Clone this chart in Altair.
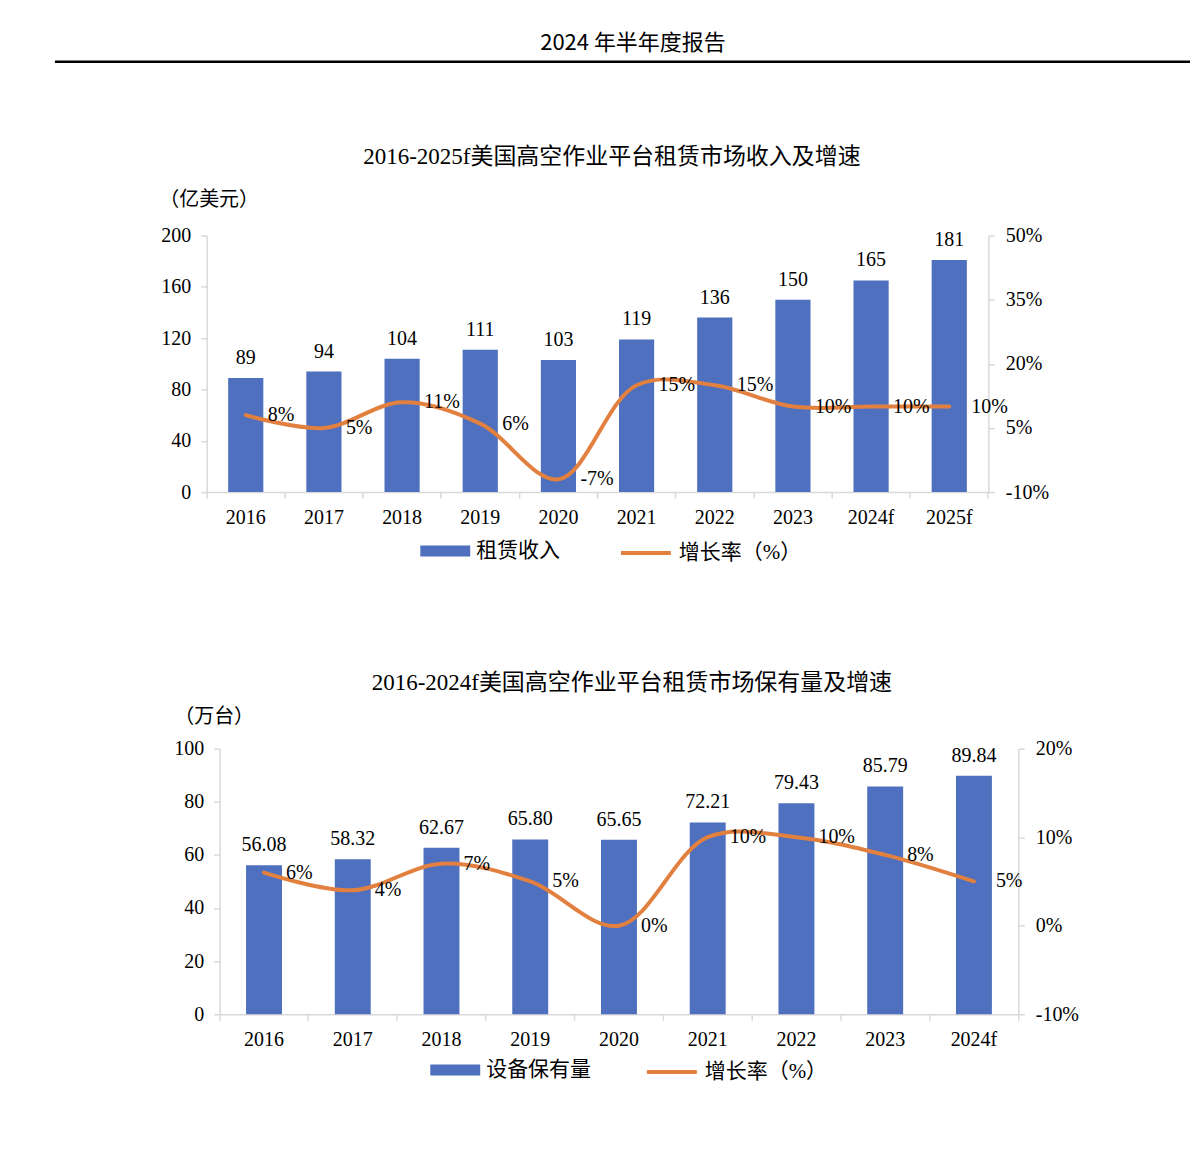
import altair as alt
import pandas as pd

# ---------------- data ----------------
years1 = ["2016", "2017", "2018", "2019", "2020", "2021", "2022", "2023", "2024f", "2025f"]
revenue = [89, 94, 104, 111, 103, 119, 136, 150, 165, 181]
growth1 = [8, 5, 11, 6, -7, 15, 15, 10, 10, 10]
left_ticks1 = [0, 40, 80, 120, 160, 200]
right_ticks1 = [-10, 5, 20, 35, 50]

years2 = ["2016", "2017", "2018", "2019", "2020", "2021", "2022", "2023", "2024f"]
fleet = [56.08, 58.32, 62.67, 65.80, 65.65, 72.21, 79.43, 85.79, 89.84]
growth2 = [6, 4, 7, 5, 0, 10, 10, 8, 5]
left_ticks2 = [0, 20, 40, 60, 80, 100]
right_ticks2 = [-10, 0, 10, 20]

header_text = "2024 年半年度报告"
title1 = "2016-2025f美国高空作业平台租赁市场收入及增速"
title2 = "2016-2024f美国高空作业平台租赁市场保有量及增速"
unit1 = "（亿美元）"
unit2 = "（万台）"
bar_name1 = "租赁收入"
bar_name2 = "设备保有量"
line_name = "增长率（%）"

# ---------------- style ----------------
BLUE = "#4E70BE"
ORANGE = "#E2803F"
GRAY = "#D9D9D9"
NUM_FONT = "Liberation Serif, Noto Sans CJK SC"
CJK_FONT = "Liberation Serif, Noto Sans CJK SC"


def panel(years, vals, growth, val_fmt, left_dom, left_ticks, right_dom, right_ticks,
          bar_name, unit, title, W, H, shift, bar_frac,
          title_x, title_y, unit_x, unit_y, leg1_x, leg2_x, leg_y):
    df = pd.DataFrame({"year": years, "val": vals, "g": growth})
    df["glabel"] = [f"{v}%" for v in growth]
    df["sbar"] = bar_name
    df["sline"] = line_name
    base = alt.Chart(df)

    x = alt.X("year:N", sort=years, title=None,
              scale=alt.Scale(paddingInner=0, paddingOuter=0, range=[shift, shift + W]),
              axis=alt.Axis(bandPosition=1, tickExtra=True, domainColor=GRAY, domainWidth=1.5,
                            tickColor=GRAY, tickWidth=1.5, tickSize=6, labelAngle=0,
                            labelFont=NUM_FONT, labelFontSize=20, labelColor="black",
                            labelPadding=9, grid=False))
    yscale = alt.Scale(domain=left_dom, nice=False)
    gscale = alt.Scale(domain=right_dom, nice=False, zero=False)

    bars = base.mark_bar(width=alt.RelativeBandSize(bar_frac)).encode(
        x=x,
        y=alt.Y("val:Q", scale=yscale,
                axis=alt.Axis(orient="left", values=left_ticks, title=unit, titleAngle=0,
                              titleX=unit_x, titleY=unit_y, titleAlign="left",
                              titleBaseline="middle", titleFont=CJK_FONT, titleFontSize=20,
                              titleFontWeight="normal", titleColor="black",
                              domainColor=GRAY, domainWidth=1.5, tickColor=GRAY, tickWidth=1.5,
                              tickSize=6, labelFont=NUM_FONT, labelFontSize=20,
                              labelColor="black", labelPadding=10, grid=False,
                              offset=-shift, minExtent=199, maxExtent=199)),
        color=alt.Color("sbar:N", scale=alt.Scale(domain=[bar_name], range=[BLUE]),
                        legend=alt.Legend(title=None, orient="none", legendX=leg1_x, legendY=leg_y,
                                          symbolType="M-1,-0.22H1V0.22H-1Z", symbolSize=2500,
                                          symbolStrokeWidth=0, symbolOpacity=1,
                                          labelFont=CJK_FONT, labelFontSize=21, labelColor="black",
                                          labelOffset=6, padding=0)),
    )
    bar_labels = base.mark_text(baseline="alphabetic", dy=-14, font=NUM_FONT, fontSize=20,
                                color="black").encode(
        x=x,
        y=alt.Y("val:Q", scale=yscale, axis=None),
        text=alt.Text("val:Q", format=val_fmt),
    )
    line = base.mark_line(interpolate="catmull-rom", strokeWidth=4, strokeCap="round").encode(
        x=x,
        y=alt.Y("g:Q", scale=gscale,
                axis=alt.Axis(orient="right", values=right_ticks, title=None,
                              labelExpr="datum.value + '%'",
                              domainColor=GRAY, domainWidth=1.5, tickColor=GRAY, tickWidth=1.5,
                              tickSize=6, labelFont=NUM_FONT, labelFontSize=20,
                              labelColor="black", labelPadding=11, grid=False)),
        stroke=alt.Stroke("sline:N", scale=alt.Scale(domain=[line_name], range=[ORANGE]),
                          legend=alt.Legend(title=None, orient="none", legendX=leg2_x, legendY=leg_y,
                                            symbolType="stroke", symbolSize=2500,
                                            symbolStrokeWidth=4,
                                            labelFont=CJK_FONT, labelFontSize=21,
                                            labelColor="black", labelOffset=6, padding=0)),
    )
    line_labels = base.mark_text(align="left", baseline="middle", dx=22, font=NUM_FONT,
                                 fontSize=20, color="black").encode(
        x=x,
        y=alt.Y("g:Q", scale=gscale, axis=None),
        text="glabel:N",
    )
    title_mark = alt.Chart(pd.DataFrame({"t": [title]})).mark_text(
        font=CJK_FONT, fontSize=23, align="center", baseline="middle", color="black"
    ).encode(x=alt.value(title_x), y=alt.value(title_y), text="t:N")

    return alt.layer(bars, bar_labels, line, line_labels, title_mark).resolve_scale(
        y="independent"
    ).properties(width=W + shift, height=H)


# plot area of chart 1 starts at page x=207; chart 2 at 220 (13 px further right)
c1 = panel(years1, revenue, growth1, "d", [0, 200], left_ticks1, [-10, 50], right_ticks1,
           bar_name1, unit1, title1, 783, 257, 0, 0.45,
           406, -79, -48, -36, 214, 413, 291)
c2 = panel(years2, fleet, growth2, ".2f", [0, 100], left_ticks2, [-10, 20], right_ticks2,
           bar_name2, unit2, title2, 800, 266, 13, 0.405,
           426, -66, -46, -32, 224, 439, 297)

hdf = pd.DataFrame({"t": [header_text]})
header_text_mark = alt.Chart(hdf).mark_text(
    font="Noto Sans CJK SC", fontSize=22, align="center", baseline="middle", color="black"
).encode(x=alt.value(427), y=alt.value(34), text="t:N")
header_rule = alt.Chart(hdf).mark_rule(color="black", strokeWidth=2.5).encode(
    x=alt.value(-152), x2=alt.value(985), y=alt.value(53)
)
header = alt.layer(header_text_mark, header_rule).properties(width=985, height=60)

charts = alt.vconcat(c1, c2, spacing=109).resolve_scale(color="independent", stroke="independent")
chart = alt.vconcat(header, charts, spacing=77).properties(padding=0).configure_view(
    stroke=None
).configure_axis(grid=False)

chart.save("out.html", embed_options={"renderer": "svg", "actions": False})
